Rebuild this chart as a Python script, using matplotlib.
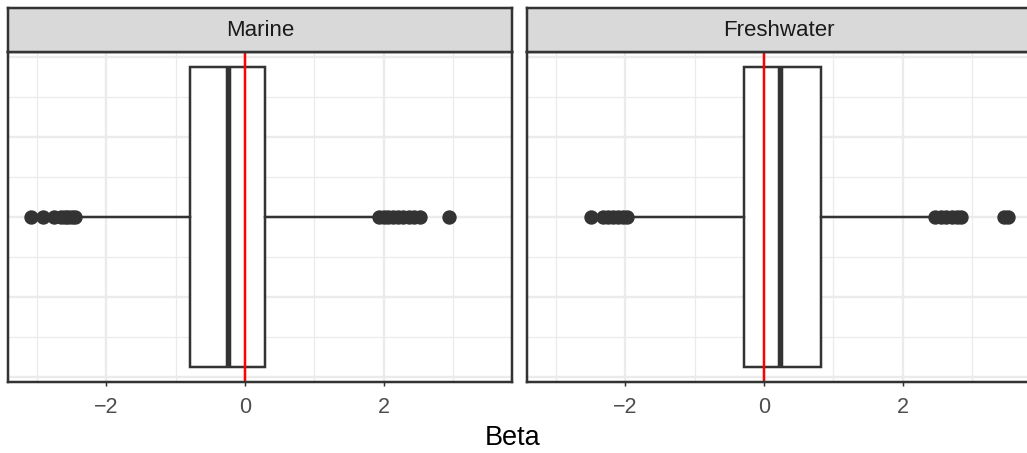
import matplotlib
matplotlib.use("Agg")
import matplotlib.pyplot as plt
from matplotlib import font_manager as fm

plt.rcParams['font.family'] = ['Liberation Sans', 'DejaVu Sans']

# pick the regular (non-narrow) Liberation Sans file explicitly
reg = [f for f in fm.findSystemFonts() if f.endswith("LiberationSans-Regular.ttf")]
def fp(size):
    if reg:
        return fm.FontProperties(fname=reg[0], size=size)
    return fm.FontProperties(family="DejaVu Sans", size=size)

# Beta distribution summaries
panels = ["Marine", "Freshwater"]
q1 = [-0.79, -0.29]
median = [-0.25, 0.23]
q3 = [0.29, 0.82]
whisker_lo = [-2.40, -1.92]
whisker_hi = [1.90, 2.45]
outliers_marine = [-3.09, -2.91, -2.76, -2.66, -2.60, -2.55, -2.50, -2.46,
                   1.93, 2.00, 2.07, 2.14, 2.21, 2.28, 2.36, 2.44, 2.52, 2.94]
outliers_fresh = [-2.50, -2.32, -2.25, -2.18, -2.11, -2.04, -1.97,
                  2.47, 2.55, 2.63, 2.71, 2.78, 2.84, 3.47, 3.52]
outliers = [outliers_marine, outliers_fresh]
x_ticks = [-2, 0, 2]
x_minor = [-3, -1, 1, 3]

W, H = 1027, 453
fig = plt.figure(figsize=(W / 100, H / 100), dpi=100)

dark = "#333333"
grid = "#EBEBEB"
px = lambda v: v / 1.389  # pixels -> points

panel_x = [8, 527]
panel_w = 504
panel_top, panel_bot = 52, 382
strip_top = 8

for i, name in enumerate(panels):
    ax = fig.add_axes([panel_x[i] / W, (H - panel_bot) / H,
                       panel_w / W, (panel_bot - panel_top) / H])
    ax.set_xlim(-3.42, 3.853)
    ax.set_ylim(-0.4125, 0.4125)

    # grid
    for v in x_minor:
        ax.axvline(v, color=grid, lw=px(1.3), zorder=0)
    for v in x_ticks:
        ax.axvline(v, color=grid, lw=px(2.4), zorder=0)
    for v in [-0.3, -0.1, 0.1, 0.3]:
        ax.axhline(v, color=grid, lw=px(1.3), zorder=0)
    for v in [-0.4, -0.2, 0, 0.2, 0.4]:
        ax.axhline(v, color=grid, lw=px(2.4), zorder=0)

    stats = [dict(q1=q1[i], med=median[i], q3=q3[i],
                  whislo=whisker_lo[i], whishi=whisker_hi[i],
                  fliers=outliers[i])]
    ax.bxp(stats, positions=[0], widths=0.75, orientation='horizontal',
           showcaps=False, patch_artist=True,
           boxprops=dict(facecolor="white", edgecolor=dark, lw=px(2.5)),
           whiskerprops=dict(color=dark, lw=px(2.5)),
           medianprops=dict(color=dark, lw=px(5.5), solid_capstyle='butt'),
           flierprops=dict(marker='o', markerfacecolor=dark, markeredgecolor=dark,
                           markersize=px(13), linestyle='none'),
           manage_ticks=False, zorder=2)

    ax.axvline(0, color="#FF0000", lw=px(2.5), zorder=3)

    ax.set_xticks(x_ticks)
    ax.set_xticklabels([f"{t:d}".replace("-", "\u2212") for t in x_ticks])
    for lab in ax.get_xticklabels():
        lab.set_fontproperties(fp(15.5))
    ax.set_yticks([])
    ax.tick_params(axis='x', length=px(4), width=px(1.5), color=dark,
                   labelcolor="#4D4D4D", pad=8)
    for s in ax.spines.values():
        s.set_color(dark)
        s.set_linewidth(px(2.5))
        s.set_zorder(5)

    # facet strip
    sax = fig.add_axes([panel_x[i] / W, (H - panel_top) / H,
                        panel_w / W, (panel_top - strip_top) / H])
    sax.set_xticks([])
    sax.set_yticks([])
    sax.set_facecolor("#D9D9D9")
    for s in sax.spines.values():
        s.set_color(dark)
        s.set_linewidth(px(2.5))
    sax.text(0.5, 0.5, name, ha='center', va='center', fontproperties=fp(16),
             color="#1A1A1A", transform=sax.transAxes)

fig.text(513 / W, 1 - 438 / H, "Beta", ha='center', va='center',
         fontproperties=fp(19.5))

fig.savefig("out.png", dpi=100)
